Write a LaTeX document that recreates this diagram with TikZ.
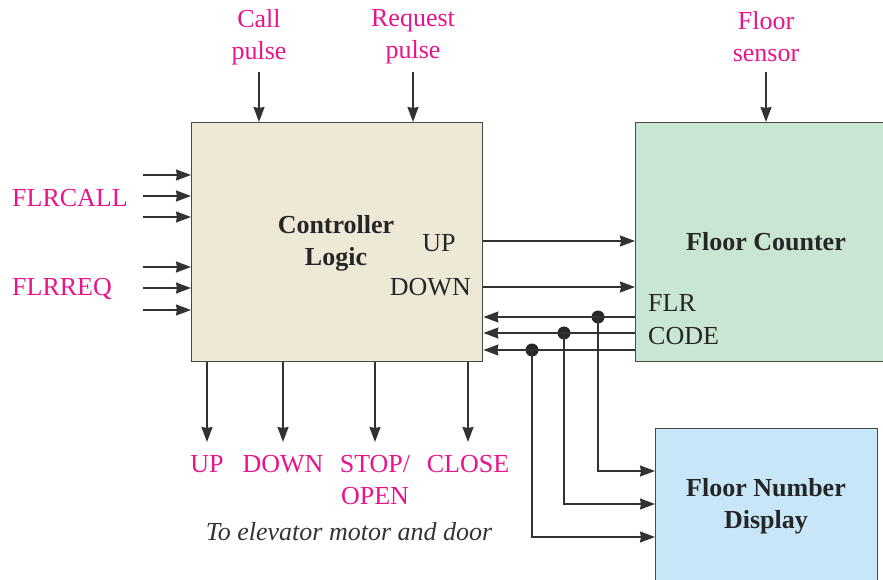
\documentclass[tikz,border=0pt]{standalone}
\usepackage{fontspec}
\setmainfont{Liberation Serif}
\usetikzlibrary{arrows.meta, positioning}

\definecolor{sigpink}{RGB}{232,20,140}
\definecolor{wiregray}{RGB}{50,50,50}
\definecolor{ctrlfill}{RGB}{238,233,214}
\definecolor{cntfill}{RGB}{201,230,211}
\definecolor{dispfill}{RGB}{199,231,249}

\begin{document}
\begin{tikzpicture}[x=1pt, y=-1pt, >={Stealth[length=15pt,width=11pt,inset=1pt]},
    font=\fontsize{26}{32}\selectfont]
  \tikzset{
    block/.style={draw=wiregray!90, line width=1.4pt, anchor=north west, inner sep=0pt},
    sig/.style={text=sigpink, align=center, inner sep=0pt},
    pin/.style={text=black!85, inner sep=0pt},
    title/.style={text=black!85, align=center, font=\fontsize{26}{32}\selectfont\bfseries},
    wire/.style={->, draw=wiregray, line width=1.5pt},
    dot/.style={circle, fill=black!85, inner sep=0pt, minimum size=13pt}
  }
  \useasboundingbox (0,0) rectangle (883,580);

  % blocks
  \node[block, fill=ctrlfill, minimum width=291pt, minimum height=239pt] (ctrl) at (191,122) {};
  \node[block, fill=cntfill, minimum width=262pt, minimum height=239pt] (cnt) at (635,122) {};
  \node[block, fill=dispfill, minimum width=222pt, minimum height=200pt] (disp) at (655,428) {};

  \node[title] (ctrltxt) at (336,243) {Controller\\Logic};
  \node[title] (cnttxt) at (766,242) {Floor Counter};
  \node[title] (disptxt) at (766,506) {Floor Number\\Display};

  % pins
  \node[pin] (up) at (439,243) {UP};
  \node[pin, anchor=east] (down) at (471,287) {DOWN};
  \node[pin, anchor=west] (flr) at (648,303) {FLR};
  \node[pin, anchor=west] (code) at (648,336) {CODE};

  % top inputs
  \node[sig] (call) at (259,37) {Call\\pulse};
  \node[sig] (req) at (413,37) {Request\\pulse};
  \node[sig] (sensor) at (766,37) {Floor\\sensor};
  \coordinate (callin) at (259,72);
  \coordinate (reqin) at (413,72);
  \coordinate (sensin) at (766,72);
  \draw[wire] (callin) -- (callin |- ctrl.north);
  \draw[wire] (reqin) -- (reqin |- ctrl.north);
  \draw[wire] (sensin) -- (sensin |- cnt.north);

  % left inputs
  \node[sig, anchor=west] (flrcall) at (12,198) {FLRCALL};
  \node[sig, anchor=west] (flrreq) at (12,289) {FLRREQ};
  \foreach \y [count=\i] in {175,196,217,267,288,310} {
    \coordinate (in\i) at (143,\y);
    \draw[wire] (in\i) -- (in\i -| ctrl.west);
  }

  % controller to counter
  \draw[wire] (ctrl.east |- 0,241) -- (cnt.west |- 0,241);
  \draw[wire] (ctrl.east |- 0,287) -- (cnt.west |- 0,287);

  % floor code back to controller and to display
  \node[dot] (tap1) at (598,317) {};
  \node[dot] (tap2) at (564,333) {};
  \node[dot] (tap3) at (532,350) {};
  \draw[wire] (tap1 -| cnt.west) -- (tap1 -| ctrl.east);
  \draw[wire] (tap2 -| cnt.west) -- (tap2 -| ctrl.east);
  \draw[wire] (tap3 -| cnt.west) -- (tap3 -| ctrl.east);
  \draw[wire] (tap1.center) |- (disp.west |- 0,471);
  \draw[wire] (tap2.center) |- (disp.west |- 0,504);
  \draw[wire] (tap3.center) |- (disp.west |- 0,537);

  % outputs
  \node[sig, anchor=north] (oup) at (207,455) {UP};
  \node[sig, anchor=north] (odown) at (283,455) {DOWN};
  \node[sig, anchor=north] (ostop) at (375,455) {STOP/\\OPEN};
  \node[sig, anchor=north] (oclose) at (468,455) {CLOSE};
  \foreach \o in {oup,odown,ostop,oclose}
    \draw[wire] (\o.north |- ctrl.south) -- ([yshift=13pt]\o.north);
  \node[text=black!80, font=\fontsize{26}{32}\selectfont\itshape] (motor) at (349,532) {To elevator motor and door};
\end{tikzpicture}
\end{document}
